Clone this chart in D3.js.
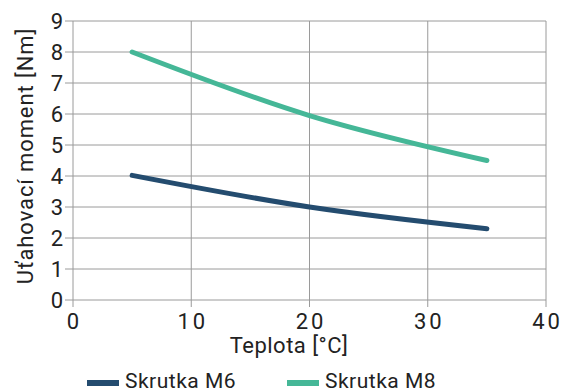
<!DOCTYPE html>
<html><head><meta charset="utf-8">
<script src="https://cdn.jsdelivr.net/npm/d3@7"></script>
<style>body{margin:0;background:#fff}svg{display:block}text{font-family:Roboto,"Open Sans",sans-serif;fill:#222}</style>
</head><body>
<svg id="c" width="564" height="392"></svg>
<script>
const temps = [5, 20, 35];
const m6 = [4.02, 3.0, 2.3];
const m8 = [8.0, 5.95, 4.5];
const seriesNames = ["Skrutka M6", "Skrutka M8"];
const colors = ["#244c6f", "#45b797"];
const xTicks = [0, 10, 20, 30, 40];
const yTicks = [0,1,2,3,4,5,6,7,8,9];

const svg = d3.select("#c");
const x = d3.scaleLinear().domain([0,40]).range([73,546]);
const y = d3.scaleLinear().domain([0,9]).range([300,21]);
const grid = "#9a9a9a";

svg.append("g").selectAll("line").data(yTicks).join("line")
  .attr("x1", 65).attr("x2", 546).attr("y1", d=>y(d)).attr("y2", d=>y(d))
  .attr("stroke", grid).attr("stroke-width", 1);
svg.append("g").selectAll("line").data(xTicks).join("line")
  .attr("x1", d=>x(d)).attr("x2", d=>x(d)).attr("y1", 21).attr("y2", 307)
  .attr("stroke", grid).attr("stroke-width", 1);

svg.append("g").selectAll("text").data(yTicks).join("text")
  .attr("x", 63).attr("y", d=>y(d)).attr("dy","0.36em").attr("text-anchor","end")
  .attr("font-size", 22).text(d=>d);
svg.append("g").selectAll("text").data(xTicks).join("text")
  .attr("x", d=>x(d)+1.5).attr("y", 321).attr("dy","0.36em").attr("text-anchor","middle")
  .attr("font-size", 22).attr("letter-spacing", 3).text(d=>d);

svg.append("text").attr("x", 289).attr("y", 345).attr("dy","0.36em")
  .attr("text-anchor","middle").attr("font-size", 22).attr("letter-spacing", 0.5).text("Teplota [°C]");
svg.append("text").attr("transform", `translate(25,156) rotate(-90)`)
  .attr("dy","0.36em").attr("text-anchor","middle").attr("font-size", 22).attr("letter-spacing", 0.9)
  .text("Uťahovací moment [Nm]");

const line = d3.line().x(d=>x(d[0])).y(d=>y(d[1])).curve(d3.curveCatmullRom.alpha(0.5));
[m6, m8].forEach((vals, i) => {
  svg.append("path").datum(temps.map((t,j)=>[t, vals[j]]))
    .attr("d", line).attr("fill","none").attr("stroke", colors[i])
    .attr("stroke-width", 5).attr("stroke-linecap","round");
});

const lg = [{x:87},{x:287}];
seriesNames.forEach((n,i)=>{
  svg.append("line").attr("x1", lg[i].x).attr("x2", lg[i].x+32).attr("y1",383).attr("y2",383)
    .attr("stroke", colors[i]).attr("stroke-width", 6);
  svg.append("text").attr("x", lg[i].x+38).attr("y", 380).attr("dy","0.36em")
    .attr("font-size", 21).attr("letter-spacing", 0.5).text(n);
});
</script>
</body></html>
